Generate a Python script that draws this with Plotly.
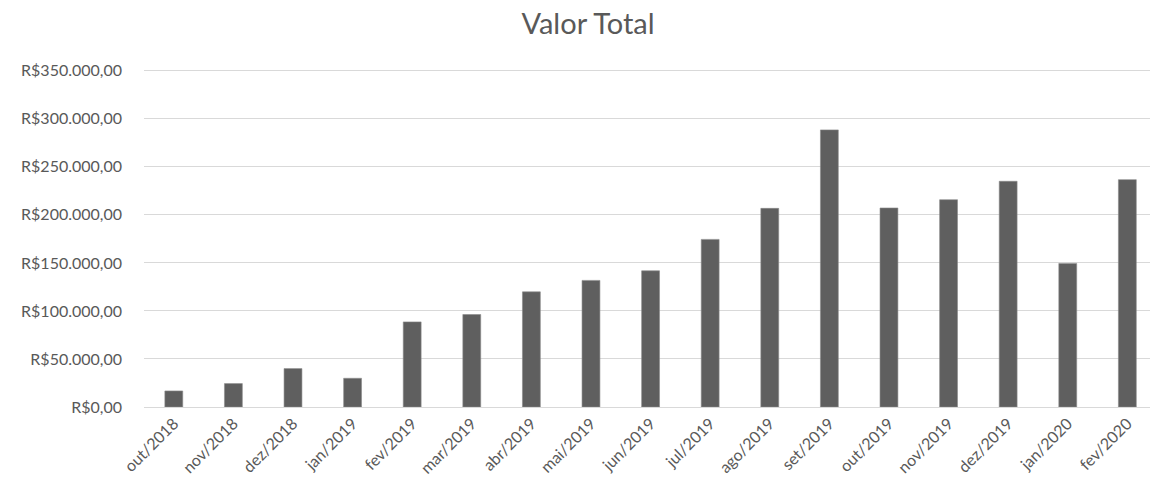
import plotly.graph_objects as go

months = ["out/2018", "nov/2018", "dez/2018", "jan/2019", "fev/2019", "mar/2019",
          "abr/2019", "mai/2019", "jun/2019", "jul/2019", "ago/2019", "set/2019",
          "out/2019", "nov/2019", "dez/2019", "jan/2020", "fev/2020"]
valor_total = [16700, 24400, 40000, 29900, 88600, 96300, 119900, 131800, 141800,
               174500, 206800, 288500, 207200, 215800, 235000, 149500, 236700]
y_ticks = [0, 50000, 100000, 150000, 200000, 250000, 300000, 350000]
y_tick_labels = ["R$0,00", "R$50.000,00", "R$100.000,00", "R$150.000,00",
                 "R$200.000,00", "R$250.000,00", "R$300.000,00", "R$350.000,00"]

fig = go.Figure(go.Bar(
    x=months, y=valor_total,
    marker=dict(color="#5f5f5f", line=dict(color="#8a8a8a", width=0.6)),
))

font_family = "Lato, 'Open Sans', sans-serif"
fig.update_layout(
    width=1150, height=493,
    margin=dict(l=144, r=0, t=66, b=86),
    paper_bgcolor="white", plot_bgcolor="white",
    bargap=0.7,
    showlegend=False,
    title=dict(text="Valor Total", x=588 / 1150, xref="container", xanchor="center",
               y=1 - 24 / 493, yanchor="middle",
               font=dict(family=font_family, size=29, color="#595959")),
    font=dict(family=font_family, color="#595959", size=16),
)
fig.update_yaxes(range=[0, 355000], tickvals=y_ticks, ticktext=y_tick_labels,
                 showgrid=True, gridcolor="#d9d9d9",
                 gridwidth=1, zeroline=False, showline=False, ticks="",
                 ticklabelstandoff=21, tickfont=dict(size=16, color="#595959"))
fig.update_xaxes(range=[-0.5, 16.38], tickangle=-45, showline=True, linecolor="#d9d9d9",
                 linewidth=1, ticks="", showgrid=False, tickfont=dict(size=16, color="#595959"))

fig.write_html("out.html", config={"displayModeBar": False},
               post_script="document.body.style.margin='0';")
